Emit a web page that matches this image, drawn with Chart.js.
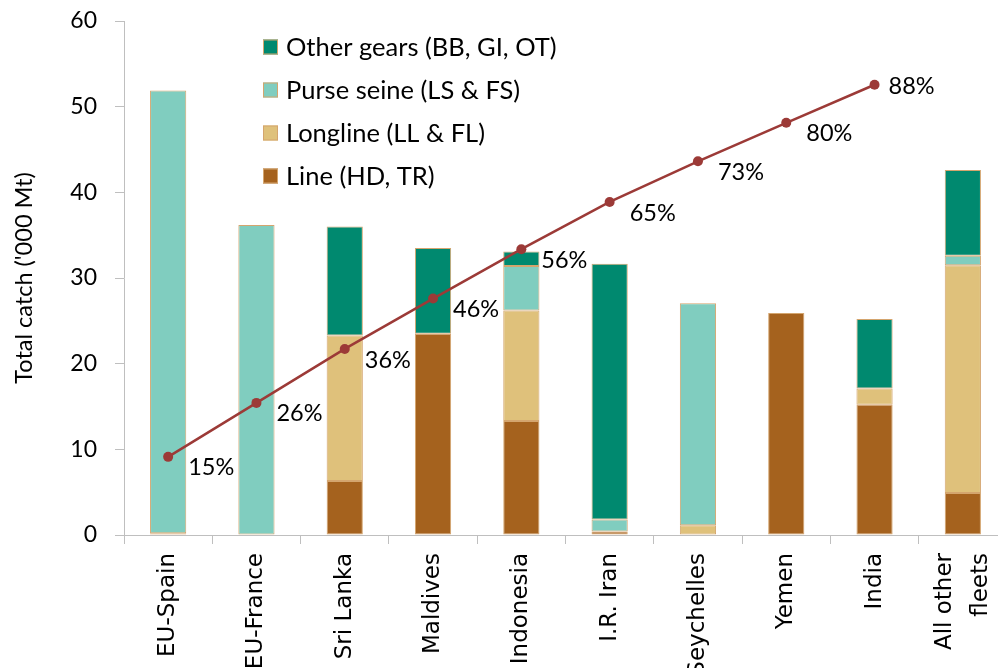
<!DOCTYPE html>
<html>
<head>
<meta charset="utf-8">
<script src="https://cdn.jsdelivr.net/npm/chart.js@4"></script>
<style>
  html, body { margin: 0; padding: 0; background: #fff; overflow: hidden; }
  #wrap { position: relative; width: 1012px; height: 668px; }
</style>
</head>
<body>
<div id="wrap"><canvas id="chart"></canvas></div>
<script>
// catch by fleet, '000 Mt, stacked by gear
const fleets = ['EU-Spain', 'EU-France', 'Sri Lanka', 'Maldives', 'Indonesia', 'I.R. Iran', 'Seychelles', 'Yemen', 'India', ['All other', 'fleets']];
const lineGear = [0, 0, 6.3, 23.5, 13.3, 0.4, 0, 25.9, 15.2, 4.9];
const longline = [0.2, 0, 17.0, 0, 12.9, 0, 1.15, 0, 1.9, 26.6];
const purseSeine = [51.7, 36.2, 0, 0, 5.2, 1.4, 25.9, 0, 0, 1.1];
const otherGears = [0, 0, 12.7, 10.0, 1.7, 29.85, 0, 0, 8.1, 10.0];
// cumulative share of total catch, %
const cumulativePct = [15.2, 25.7, 36.2, 46.0, 55.6, 64.8, 72.7, 80.2, 87.6];

const edge = '#d4a56e';

// legend drawn inside the plot, top to bottom
const gearLegend = {
  id: 'gearLegend',
  afterDraw(chart) {
    const ctx = chart.ctx;
    const items = chart.data.datasets.filter((d) => d.type !== 'line').slice().reverse();
    const x0 = chart.chartArea.left + 139;
    ctx.save();
    ctx.font = '25.5px Lato';
    ctx.textBaseline = 'middle';
    items.forEach((d, i) => {
      const y = chart.chartArea.top + 26 + i * 43;
      ctx.fillStyle = d.backgroundColor;
      ctx.fillRect(x0, y - 7.5, 15, 15);
      ctx.strokeStyle = edge;
      ctx.lineWidth = 1;
      ctx.strokeRect(x0 + 0.5, y - 7, 14, 14);
      ctx.fillStyle = '#000';
      ctx.fillText(d.label, x0 + 23, y + 1);
    });
    ctx.restore();
  },
};

// percent labels next to the cumulative points
const pctLabels = {
  id: 'pctLabels',
  afterDatasetsDraw(chart) {
    const idx = chart.data.datasets.findIndex((d) => d.type === 'line');
    const meta = chart.getDatasetMeta(idx);
    const ctx = chart.ctx;
    ctx.save();
    ctx.font = '23.5px Lato';
    ctx.fillStyle = '#000';
    ctx.textBaseline = 'middle';
    meta.data.forEach((pt, i) => {
      const last = i === meta.data.length - 1;
      const txt = Math.round(cumulativePct[i]) + '%';
      ctx.fillText(txt, pt.x + (last ? 14 : 20), pt.y + (last ? 2 : 11));
    });
    ctx.restore();
  },
};

// two-line rotated labels: centre the block on the tick instead of the first line
const centerMultiline = {
  id: 'centerMultiline',
  beforeDraw(chart) {
    chart.scales.x.getLabelItems().forEach((it) => {
      if (Array.isArray(it.label) && !it._centered) {
        it.options.translation[0] -= (it.label.length - 1) * it.font.lineHeight / 2;
        it._centered = true;
      }
    });
  },
};

new Chart(document.getElementById('chart'), {
  type: 'bar',
  data: {
    labels: fleets,
    datasets: [
      { type: 'line', label: 'Cumulative', data: cumulativePct, yAxisID: 'y2', order: 0,
        borderColor: '#9c3a37', backgroundColor: '#9c3a37', borderWidth: 2.5,
        pointRadius: 5, pointBorderWidth: 0, tension: 0 },
      { label: 'Line (HD, TR)', data: lineGear, backgroundColor: '#a5621e', order: 1 },
      { label: 'Longline (LL & FL)', data: longline, backgroundColor: '#dfc17b', order: 1 },
      { label: 'Purse seine (LS & FS)', data: purseSeine, backgroundColor: '#80cdbf', order: 1 },
      { label: 'Other gears (BB, GI, OT)', data: otherGears, backgroundColor: '#00896f', order: 1 },
    ].map((d) => d.type ? d : { ...d, borderColor: edge, borderWidth: 1, borderSkipped: false,
      categoryPercentage: 1, barPercentage: 0.41 }),
  },
  options: {
    responsive: true,
    maintainAspectRatio: false,
    animation: false,
    layout: { padding: { top: 21, right: 3, left: 0, bottom: 0 } },
    plugins: { legend: { display: false }, tooltip: { enabled: false } },
    scales: {
      x: {
        stacked: true,
        grid: { drawOnChartArea: false, tickLength: 9, color: '#bfbfbf' },
        border: { color: '#bfbfbf' },
        ticks: { autoSkip: false, minRotation: 90, maxRotation: 90, padding: 9,
          color: '#000', font: { family: 'DejaVu Sans', size: 23, lineHeight: 1.55 } },
        afterFit(s) { s.height = 133; s.paddingLeft = 0; s.paddingRight = 0; },
      },
      y: {
        stacked: true,
        min: 0, max: 60,
        grid: { drawOnChartArea: false, tickLength: 9, color: '#bfbfbf' },
        border: { color: '#bfbfbf' },
        ticks: { stepSize: 10, padding: 18, color: '#000', font: { family: 'Lato', size: 23 } },
        title: { display: true, text: "Total catch ('000 Mt)", color: '#000',
          font: { family: 'Lato', size: 23.5 }, padding: { top: 10, bottom: 0 } },
        afterFit(s) { s.width = 124; s.paddingTop = 0; s.paddingBottom = 0; },
      },
      y2: { display: false, min: 0, max: 100 },
    },
  },
  plugins: [gearLegend, pctLabels, centerMultiline],
});
</script>
</body>
</html>
